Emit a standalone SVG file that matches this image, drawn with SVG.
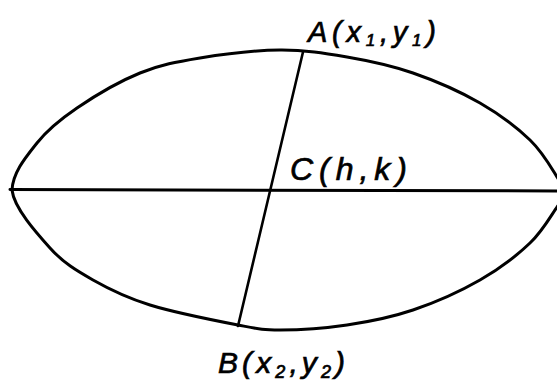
<svg xmlns="http://www.w3.org/2000/svg" width="557" height="385" viewBox="0 0 557 385">
<style>
.ink{fill:none;stroke:#000;stroke-linecap:round;stroke-linejoin:round}
.lbl{font-family:"Liberation Sans","DejaVu Sans",sans-serif;font-style:italic;fill:#000;stroke:#000;stroke-width:0.7}
</style>
<rect width="557" height="385" fill="#fff"/>
<g id="ellipse">
<path class="ink" stroke-width="3" d="M12,190 C13,172 26.2,156.7 37,143 C47.8,129.3 59.8,119.7 77,108 C94.2,96.3 119.5,81.3 140,73 C160.5,64.7 176.7,61.8 200,58 C223.3,54.2 255.5,50.2 280,50 C304.5,49.8 324.8,53.2 347,57 C369.2,60.8 390.8,65.3 413,73 C435.2,80.7 460.5,91.8 480,103 C499.5,114.2 517.2,127.7 530,140 C542.8,152.3 551.3,167.8 557,177 C562.7,186.2 565,190 564,195 C563,200 562.7,199 557,207 C551.3,215 542.8,230.8 530,243 C517.2,255.2 499.5,268.8 480,280 C460.5,291.2 435.2,302.5 413,310 C390.8,317.5 369.2,321.7 347,325 C324.8,328.3 298.2,330 280,330 C261.8,330 259.7,329.2 238,325 C216.3,320.8 174.2,312.5 150,305 C125.8,297.5 109.7,289.5 93,280 C76.3,270.5 63.5,263 50,248 C36.5,233 14,208 12,190 Z"/>
</g>
<g id="connectors">
<line class="ink" stroke-width="3" x1="10" y1="189.5" x2="560" y2="191"/>
<line class="ink" stroke-width="2.6" x1="303" y1="52" x2="238" y2="326"/>
</g>
<g id="label-A">
<text class="lbl" x="308" y="42" font-size="29" textLength="128" lengthAdjust="spacing">A(x<tspan font-size="17" dy="4">1</tspan><tspan dy="-4">,y</tspan><tspan font-size="17" dy="4">1</tspan><tspan dy="-4">)</tspan></text>
</g>
<g id="label-C">
<text class="lbl" x="290" y="180" font-size="32" textLength="117" lengthAdjust="spacing">C(h,k)</text>
</g>
<g id="label-B">
<text class="lbl" x="218" y="373" font-size="30" textLength="127" lengthAdjust="spacing">B(x<tspan font-size="18" dy="5">2</tspan><tspan dy="-5">,y</tspan><tspan font-size="18" dy="5">2</tspan><tspan dy="-5">)</tspan></text>
</g>
</svg>
